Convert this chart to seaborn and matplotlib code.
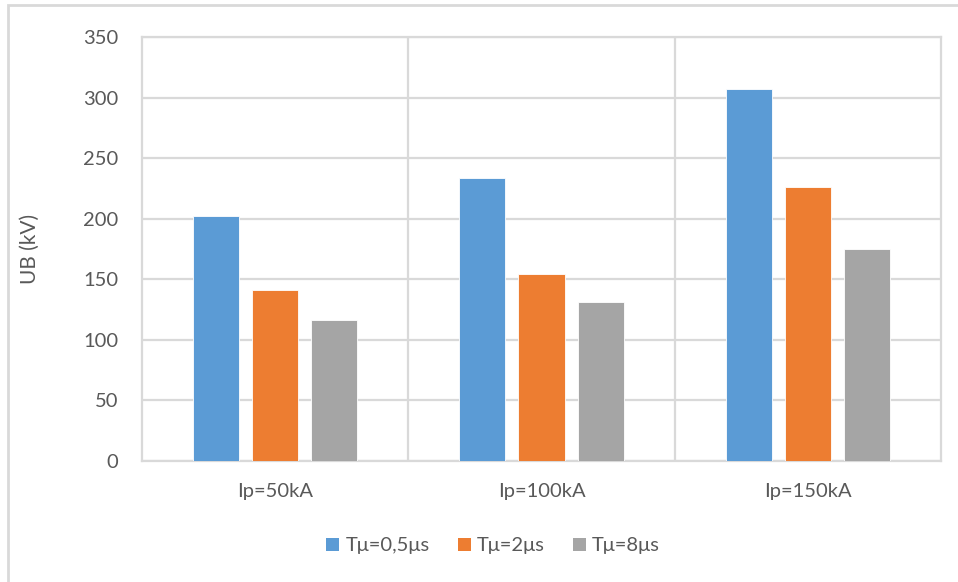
import numpy as np
import pandas as pd
import matplotlib.pyplot as plt
import seaborn as sns
from matplotlib.patches import Patch, Rectangle

# data
categories = ["Ip=50kA", "Ip=100kA", "Ip=150kA"]
series = ["Tμ=0,5μs", "Tμ=2μs", "Tμ=8μs"]
t05 = [202, 234, 307]
t2 = [141, 154, 226]
t8 = [116, 131, 175]
colors = ["#5B9BD5", "#ED7D31", "#A5A5A5"]
yticks = [0, 50, 100, 150, 200, 250, 300, 350]

df = pd.DataFrame({
    "Ip": categories * 3,
    "T": [series[0]] * 3 + [series[1]] * 3 + [series[2]] * 3,
    "UB": t05 + t2 + t8,
})

sns.set_style("white")
plt.rcParams['font.family'] = ['Lato', 'DejaVu Sans']
txt = "#595959"
grid = "#D9D9D9"

fig = plt.figure(figsize=(9.58, 5.82), dpi=100)
ax = fig.add_axes([142/958, 121/582, 799/958, 424/582])

sns.barplot(data=df, x="Ip", y="UB", hue="T", palette=colors, width=0.665, gap=0.22,
            saturation=1, edgecolor="white", linewidth=0.6, ax=ax, legend=False, zorder=3)

ax.set_xlim(-0.5, 2.5)
ax.set_ylim(0, 350)
ax.set_yticks(yticks)
ax.set_xticks(range(3))
ax.set_xticks([0.5, 1.5], minor=True)
ax.grid(axis="y", which="major", color=grid, lw=1.6, zorder=0)
ax.grid(axis="x", which="minor", color=grid, lw=1.6, zorder=0)
ax.grid(axis="x", which="major", visible=False)
for s in ax.spines.values():
    s.set_color(grid)
    s.set_linewidth(1.6)
ax.tick_params(axis="both", which="both", length=0, colors=txt, labelsize=14.5)
ax.tick_params(axis="y", pad=17)
ax.tick_params(axis="x", pad=16)
ax.set_xlabel("")
ax.set_ylabel("UB (kV)", color=txt, fontsize=15)
ax.yaxis.set_label_coords(-0.128, 0.5)

handles = [Patch(facecolor=c, edgecolor="none") for c in colors]
fig.legend(handles, series, loc="center", bbox_to_anchor=(493/958, 36/582), ncol=3,
           frameon=False, fontsize=14.5, labelcolor=txt, handlelength=0.65, handleheight=0.65,
           handletextpad=0.3, columnspacing=1.4)

# outer chart border
fig.patches.append(Rectangle((8/958, -0.1), 1.2, (577/582) + 0.1, transform=fig.transFigure,
                             fill=False, edgecolor=grid, lw=2))

fig.savefig("out.png", dpi=100)
